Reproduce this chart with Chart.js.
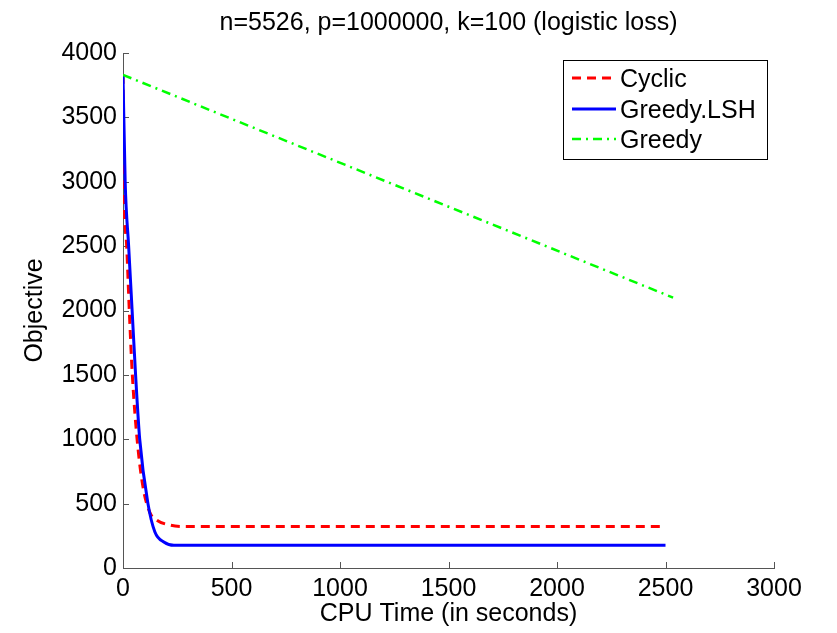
<!DOCTYPE html>
<html><head><meta charset="utf-8">
<script src="https://cdn.jsdelivr.net/npm/chart.js@4"></script>
<style>html,body{margin:0;padding:0;background:#fff;}</style>
</head><body>
<canvas id="c" width="837" height="633"></canvas>
<script>
const chartTitle = 'n=5526, p=1000000, k=100 (logistic loss)';
const xAxisLabel = 'CPU Time (in seconds)';
const yAxisLabel = 'Objective';
const seriesNames = ['Cyclic', 'Greedy.LSH', 'Greedy'];
const xTickValues = [0, 500, 1000, 1500, 2000, 2500, 3000];
const yTickValues = [0, 500, 1000, 1500, 2000, 2500, 3000, 3500, 4000];
const cyclicTime = [0, 4, 17, 29, 43, 65, 91, 124, 155, 217, 300, 2500];
const cyclicObjective = [3830, 3000, 2500, 2000, 1500, 1000, 640, 430, 373, 333, 322, 322];
const lshTime = [0, 10, 26, 42, 58, 77, 115, 147, 190, 235, 2500];
const lshObjective = [3830, 3000, 2500, 2000, 1500, 1000, 500, 280, 200, 176, 176];
const greedyTime = [0, 2535];
const greedyObjective = [3830, 2100];

const FONT = '"Liberation Sans", Arial, Helvetica, sans-serif';
Chart.defaults.font.family = FONT;
Chart.defaults.color = '#000';

function pts(xs, ys) { return xs.map((x, i) => ({ x: x, y: ys[i] })); }

const legendBox = {
  id: 'legendBox',
  afterDatasetsDraw(chart) {
    const ctx = chart.ctx;
    ctx.save();
    ctx.fillStyle = '#fff';
    ctx.fillRect(563, 60, 204, 99);
    ctx.strokeStyle = '#000';
    ctx.lineWidth = 1;
    ctx.strokeRect(563.5, 60.5, 204, 99);
    ctx.font = '25px ' + FONT;
    ctx.textBaseline = 'middle';
    ctx.textAlign = 'left';
    const rows = [80, 111, 141];
    chart.data.datasets.forEach((ds, i) => {
      const y = rows[i];
      ctx.beginPath();
      ctx.setLineDash(ds.borderDash || []);
      ctx.strokeStyle = ds.borderColor;
      ctx.lineWidth = ds.borderWidth;
      ctx.moveTo(572, y - 2);
      ctx.lineTo(616, y - 2);
      ctx.stroke();
      ctx.setLineDash([]);
      ctx.fillStyle = '#000';
      ctx.fillText(ds.label, 620, y);
    });
    ctx.restore();
  }
};

const inwardTicks = {
  id: 'inwardTicks',
  beforeDatasetsDraw(chart) {
    const { ctx, chartArea: a, scales: { x, y } } = chart;
    ctx.save();
    ctx.strokeStyle = '#555';
    ctx.lineWidth = 1;
    ctx.beginPath();
    xTickValues.forEach(v => {
      const px = Math.round(x.getPixelForValue(v)) + 0.5;
      ctx.moveTo(px, a.bottom); ctx.lineTo(px, a.bottom - 6);
    });
    yTickValues.forEach(v => {
      const py = Math.round(y.getPixelForValue(v)) + 0.5;
      ctx.moveTo(a.left, py); ctx.lineTo(a.left + 6, py);
    });
    ctx.stroke();
    ctx.restore();
  }
};

new Chart(document.getElementById('c'), {
  type: 'line',
  data: {
    datasets: [
      { label: seriesNames[0], data: pts(cyclicTime, cyclicObjective), borderColor: '#ff0000', borderWidth: 3, borderDash: [9, 6], order: 2 },
      { label: seriesNames[1], data: pts(lshTime, lshObjective), borderColor: '#0000ff', borderWidth: 3, order: 1 },
      { label: seriesNames[2], data: pts(greedyTime, greedyObjective), borderColor: '#00ff00', borderWidth: 2.5, borderDash: [9, 5, 2, 5], order: 0 }
    ]
  },
  options: {
    responsive: false,
    animation: false,
    devicePixelRatio: 1,
    layout: { padding: { left: 0, right: 63, top: 0, bottom: 0 } },
    elements: { point: { radius: 0 }, line: { cubicInterpolationMode: 'monotone', fill: false } },
    plugins: {
      legend: { display: false },
      tooltip: { enabled: false },
      title: {
        display: true, text: chartTitle, fullSize: false,
        font: { size: 25, weight: 'normal' }, color: '#000',
        padding: { top: 8, bottom: 15 }
      }
    },
    scales: {
      x: {
        type: 'linear', min: 0, max: 3000,
        afterBuildTicks: s => { s.ticks = xTickValues.map(v => ({ value: v })); },
        afterFit: s => { s.height = 65; },
        grid: { display: false, drawTicks: false },
        border: { display: true, color: '#555', width: 1 },
        ticks: { font: { size: 25 }, color: '#000', padding: 6, maxRotation: 0, callback: v => String(v) },
        title: { display: true, text: xAxisLabel, font: { size: 25 }, color: '#000', padding: 4 }
      },
      y: {
        type: 'linear', min: 0, max: 4000,
        afterBuildTicks: s => { s.ticks = yTickValues.map(v => ({ value: v })); },
        afterFit: s => { s.width = 123; },
        grid: { display: false, drawTicks: false },
        border: { display: true, color: '#555', width: 1 },
        ticks: { font: { size: 25 }, color: '#000', padding: 6, callback: v => String(v) },
        title: { display: true, text: yAxisLabel, font: { size: 25 }, color: '#000', padding: 20 }
      }
    }
  },
  plugins: [inwardTicks, legendBox]
});
</script>
</body></html>
